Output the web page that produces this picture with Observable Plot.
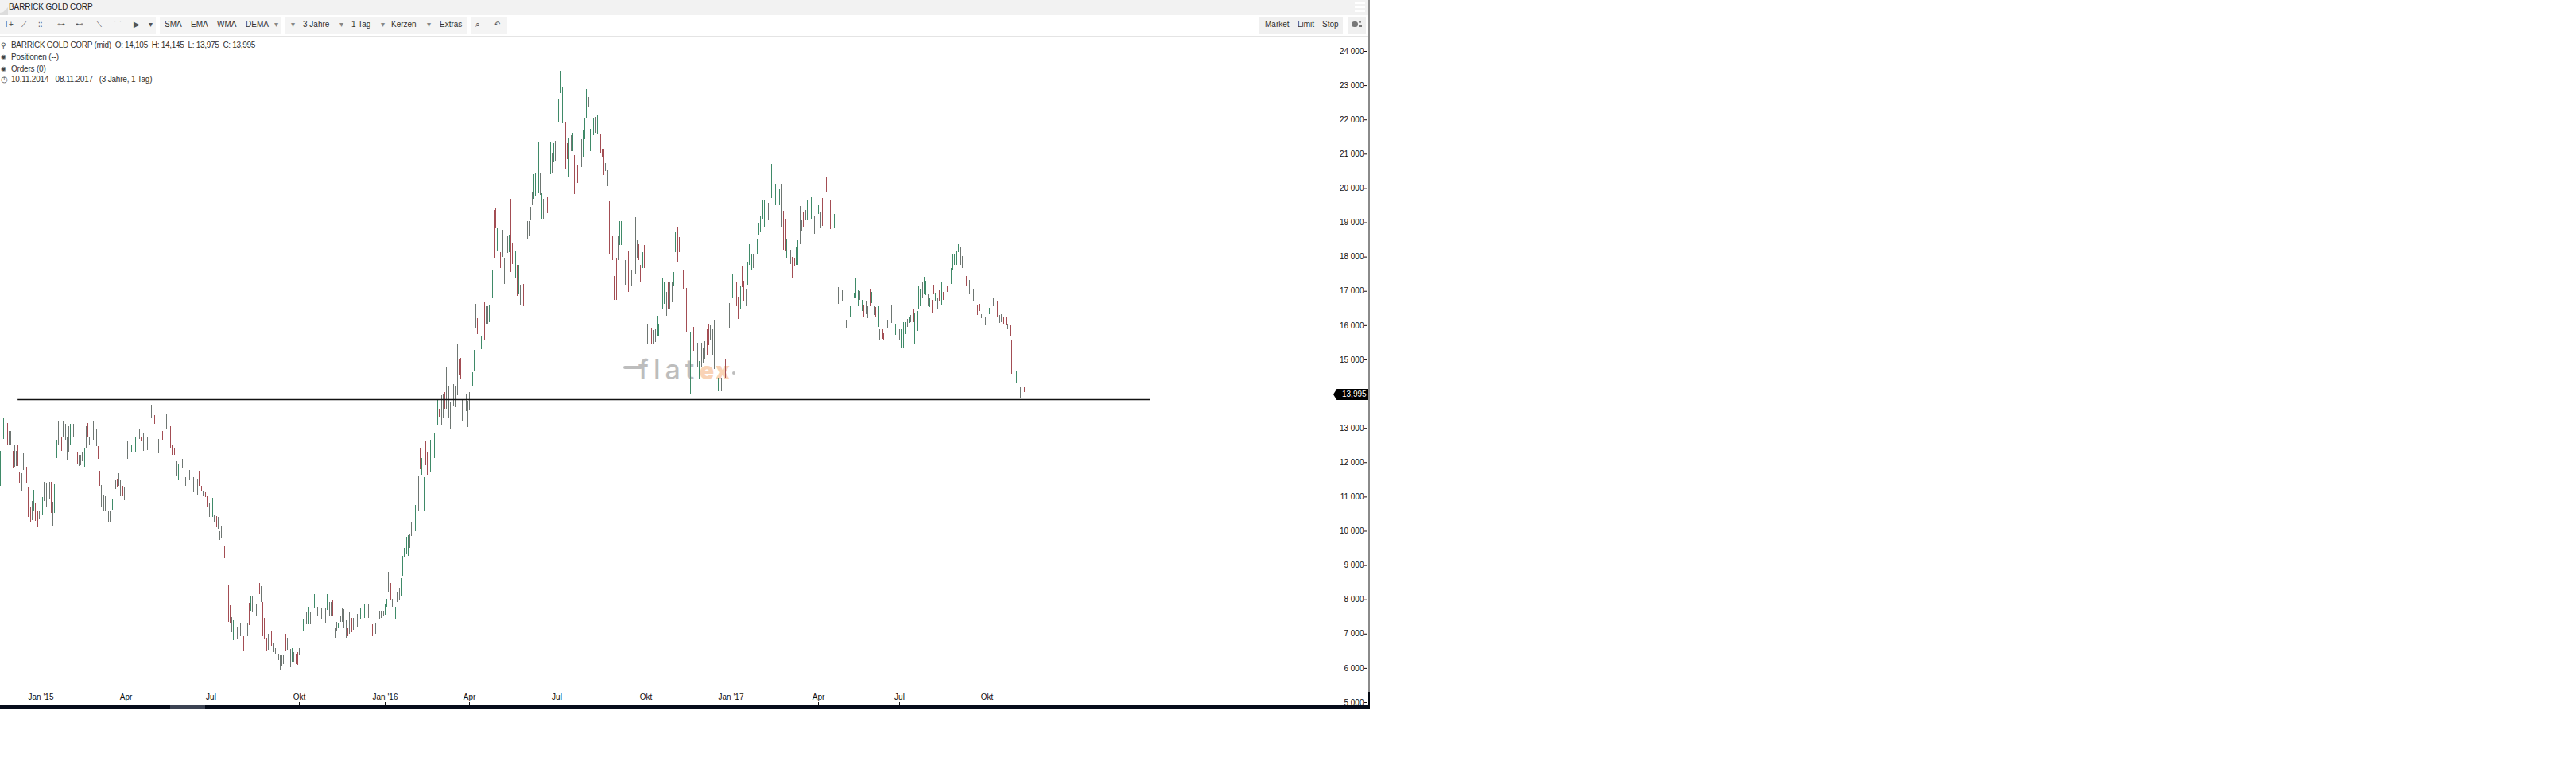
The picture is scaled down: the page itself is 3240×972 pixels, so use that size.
<!DOCTYPE html>
<html><head><meta charset="utf-8">
<script src="https://cdn.jsdelivr.net/npm/d3@7"></script>
<script src="https://cdn.jsdelivr.net/npm/@observablehq/plot@0.6"></script>
<style>
html,body{margin:0;padding:0;background:#fff;width:3240px;height:972px;overflow:hidden;font-family:"Liberation Sans",Arial,sans-serif}
#stage{position:absolute;left:0;top:0;width:3240px;height:972px}
.b{position:absolute}
.t{position:absolute;white-space:pre;font-size:10px;line-height:12px;color:#333}
svg{position:absolute;left:0;top:0}
</style></head><body><div id="stage"></div>
<script>
// Price in thousands. Each session: high, low (flat pairs). One list per quarter.
const q0=[12.34,11.3,12.61,12.07,13.29,12.69,12.92,12.61,13.15,12.49,12.92,12.51,12.9,12.51,12.32,11.81,12.49,11.86,12.32,11.89,12.49,11.89,11.7,11.41,11.68,11.18,12.26,11.78,12.48,11.87,11.87,11.4,11.27,10.41,10.71,10.25,10.87,10.31,11.19,10.6,10.83,10.29,10.56,10.1,10.6,10.33];
const d0="gngnrnnrnnrrnnnrrrngrrn";
const q1=[10.97,10.48,10.99,10.48,11.43,10.87,11.4,10.71,11.3,10.75,11.43,10.91,11.43,10.52,10.85,10.12,11.39,10.52,12.65,12.13,13.19,12.49,12.88,12.53,12.74,12.32,13.19,12.73,13.11,12.65,12.73,12.05,13.04,12.3,13.11,12.49,13,12.73,13.13,12.73,12.56,12.15,12.3,11.94,12.22,11.89,12.22,11.91,12.3,12.03,12.42,11.86,13.04,12.43,13.15,12.76,12.76,12.49,12.96,12.74,13.19,12.65,13.04,12.61,12.96,12.48,12.46,12.09,11.74,11.3,11.33,10.68,11.04,10.56,11.01,10.58,10.64,10.29,10.6,10.27,10.6,10.27,10.92,10.62,11.31,10.97,11.49,11.22,11.53,11.27,11.68,11.3,11.47,11.02,11.3,11.01,11.26,10.89];
const d1="ggnnnnrnggnnrnnnnggnrrnnngnrnrnrnrrnnnnnngnnrnnr";
const q2=[12.15,11.09,12.61,12.11,12.49,12.09,12.49,12.3,12.63,12.32,12.73,12.3,12.98,12.49,12.97,12.69,12.76,12.61,12.84,12.32,12.83,12.3,12.73,12.35,13.38,12.53,13.67,13.28,13.38,12.9,13.38,13.11,13.17,12.73,12.69,12.25,12.88,12.59,12.92,12.65,13.58,13.07,13.42,12.96,13.38,13.04,13.04,12.42,12.49,12.22,12.42,12.22,12.03,11.58,11.95,11.5,12.03,11.72,12.11,11.84,12.12,11.89,11.57,11.3,11.68,11.49,11.78,11.5,11.45,11.18,11.57,11.12,11.53,11.1,11.53,11.05,11.76,11.3,11.3,11.14,11.16,11.02,11.12,10.99,11.02,10.71,10.83,10.41];
const d2="gnngngnnrnnngnrrnngrnnrrrrngnnnnrnnnnnrrnrr";
const q3=[10.64,10.37,10.97,10.41,10.48,10.25,10.42,10.1,10.41,10.06,9.98,9.73,10.13,9.79,9.84,9.59,9.57,9.21,9.17,8.59,8.43,7.35,7.84,7.33,7.48,7.04,7.41,6.81,7.08,6.85,7.2,6.85,7.31,6.89,7.3,6.93,6.89,6.65,6.93,6.5,7.1,6.65,7.33,6.93,7.89,7.24,8.12,7.66,8.09,7.62,8.01,7.62,7.85,7.5,8.01,7.74,8.47,8.16,8.39,7.93,7.93,6.93,7.47,6.85,6.89,6.5,7,6.54,7.14,6.73,7.08,6.65,6.73,6.46,6.58,6.42,6.54,6.19,6.42,6.23,6.38,5.92,6.38,6.07,6.38,6.11,6.99,6.48,6.89,6.54,6.38,6.04,6.55,6.01,6.58,6.15,6.46,6.19,6.42,6.11,6.46,6.09];
const d3="ngnrnnnrrrrrngnnnnrrgnrgnnnnrnrrrnrrnnnnnnnrnnngnrr";
const q4=[6.58,6.38,6.89,6.63,7.43,7.06,7.47,7.08,7.62,7.27,7.79,7.27,7.62,7.27,8.16,7.74,8.16,7.74,7.97,7.53,7.78,7.51,7.76,7.45,7.74,7.43,7.74,7.43,7.74,7.33,8.16,7.7,7.93,7.54,7.93,7.51,7.97,7.51,7.16,6.89,7.35,7.08,7.3,7.16,7.51,7.35,7.74,7.35,7.71,7.16,7.39,6.89,7.16,6.93,7.62,7,7.47,7.04,7.47,7.12,7.39,7.04,7.58,7.2,7.58,7.25,7.74,7.43,8.07,7.62,7.85,7.47,7.83,7.58,7.85,7.47,7.7,7,7.27,6.93,7.74,6.91,7.33,7,7.66,7.39,7.66,7.43,7.66,7.47,7.66,7.51];
const d4="ngggngnggrnnnnngnnrnngnnnnrnrnnnngnggnnrrngnnnn";
const q5=[7.85,7.56,8.02,7.78,8.8,8.2,8.47,7.97,8.01,7.78,8.05,7.7,7.78,7.43,8.22,7.93,8.32,8,8.61,8.12,9.28,8.7,9.51,9.24,9.82,9.32,9.88,9.28,9.9,9.49,10.25,9.86,10.02,9.63,10.75,9.98,11.41,10.87,11.6,10.6,12.43,11.8,12.12,11.64,11.56,10.56,12.61,11.91,12.3,11.64,11.99,11.49,12.65,11.72,12.92,12.38,12.84,12.12,13.56,12.96,13.82,13.09,13.57,13.34,13.96,13.07,14,13.3,14.04,13.57,14.77,13.57,14.23,13.3,13.77,12.95,14.33,13.69,14.27,13.65,14.23,13.61,15.47,13.96,15,14.54,15.04,14.42,13.84,13.22,14.13,13.53,14,13.49,13.8,13.03];
const d5="ggnrnngnngggggnnnggnrggrrngggngrnnrnnnrnnnrrnrnnn";
const q6=[14.04,13.53,14.05,13.77,14.62,14.23,15.27,14.64,16.63,15.93,16.2,15.74,16.09,15.08,15.66,15.31,16.51,15.85,16.67,15.58,16.55,16.01,16.55,16.05,16.59,16.09,16.7,16.12,17.59,16.78,19.37,17.94,19.43,18.83,18.83,18.17,18.41,17.44,18.14,17.67,18.79,17.98,17.94,17.2,18.72,17.9,18.6,18.1,18.64,18.14,19.68,17.56,18.41,17.79,18.1,17.05,18.17,17.36,17.75,16.86,17.75,16.9,17.17,16.59,17.17,16.38,17.2,16.55,19.2,18.14,19.03,18.52,19.03,18.6,19.45,19.06,19.87,19.49,20.41,19.68,20.44,19.76,20.73,19.6,21.34,19.84,20.45,19.8,19.84,19.1,19.68,19.1,19.57,18.99,19.72,19.26,20.69,19.91,21.34,20.41,21,20.46,21.3,20.76,21.38,20.8];
const d6="ngggnrngnrnngggrrgnrnnnngrrngrgngrrnnnnggggngnnrrgngnrgrnnnnng";
const q7=[22.27,21.62,22.58,21.92,23.43,22.78,22.95,21.89,22.5,21.89,21.92,20.57,21.3,20.84,21.46,20.34,21.54,21.07,21.62,21.07,20.96,19.82,20.53,19.99,20.69,20.15,20.49,19.91,21.42,20.61,21.69,20.88,22.06,21.42,22.89,22.04,22.66,22.35,21.73,21.07,21.62,21.19,22.04,21.54,22.08,21.62,22.14,21.58,21.77,21.38,21.58,21,21.15,20.88,21.15,20.38,20.73,20.49,20.53,20.05,19.62,18.06,18.95,18.02,18.6,17.9,17.44,16.74,17.94,16.74,18.6,17.9,19.03,18.33,19.03,18.33,18.1,17.28,17.9,17.17,17.67,17.05,18.15,16.98,17.75,17.05,17.63,17.13,17.6,17.09,19.14,17.48,18.48,17.94,18.37,17.9,17.75,17.28,18.13,17.67,18.33,17.67];
const d7="ngggrrrgngrnrnngggngrgngnrrrnnrrrrrngggnnrrnnnnrrgrnnggng";
const q8=[16.59,15.35,16.01,15.43,16.09,15.31,15.93,15.43,15.85,15.43,15.89,15.51,16.28,15.7,16.05,15.66,16.43,16.05,17.38,16.47,17.25,16.63,16.98,16.28,17.28,16.47,17.28,16.47,17.25,16.67,17.56,17.13,18.72,18.14,18.87,17.86,18.58,18.14,17.61,16.98,17.61,17.05,18.17,16.74,17.09,15.78,15.81,14.92,15.8,14,15.61,14.95,15.95,15.26,15.66,15.11,15.49,14.8,14.95,14.42,15.49,14.8,15.34,14.88,15.53,15.03,15.87,15.11,16.03,15.41,15.99,15.57,15.87,15.11,16.14,14.72,14.46,13.96,14.46,14.07,14.42,14.07,14.46,14.07,14.65,14.27,14.99,14.46,16.49,15.6,16.64,15.91];
const d8="rnnrnnggnggnrnnggrrnrnrrggrnngnnnrrnnnngnnrrgng";
const q9=[16.83,15.91,17.48,16.79,17.29,16.79,17.25,16.56,16.83,16.18,17.14,16.49,17.71,17.1,17.29,16.72,17.06,16.56,17.83,17.18,18.36,17.75,18.09,17.6,18.09,17.67,18.61,18.25,18.51,18.06,18.97,18.61,19.17,18.71,19.63,19.09,19.66,18.86,19.55,18.82,19.56,19.05,19.33,18.84,20.7,19.7,20.74,20.16,20.12,19.51,20.24,19.66,19.97,19.51,20.12,18.86,19.33,18.21,19.09,18.17,18.52,17.94,18.4,17.79,18.21,17.79,17.98,17.37,17.94,17.71,18.29,17.75,18.48,17.75,19.47,18.36,19.05,18.74,19.28,18.86,19.36,19.05,19.63,19.05,19.66,19.13,19.74,19.09,19.7,19.28,19.17,18.67,19.26,18.78];
const d9="ggrrrgrrngggnggggggnnggrgrgnrrgnnrrggnnrngngrngggnrnr";
const q10=[19.51,19.24,19.28,18.82,19.7,18.9,20.12,19.66,20.33,19.86,19.86,19.51,19.63,18.8,19.36,18.82,19.24,18.82,18.13,17.02,17.11,16.62,16.95,16.64,17.02,16.72,16.55,16.27,16.16,15.91,16.35,16.01,16.56,16.26,16.87,16.52,16.95,16.79,17.37,16.79,17.02,16.56,17,16.75,16.74,16.41,16.6,16.26,16.72,16.33,16.56,16.2,17.06,16.56,16.98,16.64,16.56,16.29,16.52,16.26,16.56,15.95,15.87,15.57,15.87,15.61,15.76,15.55,15.76,15.55,16.14,15.91,16.52,16.18,16.58,16.07,16.07,15.8,16.03,15.72,15.99,15.53];
const d10="gnrrrrrggrnrngnngggggngrnnrgnrgnrrrnnngggrnr";
const q11=[15.87,15.57,15.87,15.34,16.1,15.32,16.1,15.74,16.18,15.95,16.26,16.07,16.29,16.1,16.49,16.1,16.37,15.45,16.41,15.84,17.14,16.45,17.06,16.56,17.25,16.79,17.4,16.91,17.29,16.87,16.91,16.56,16.79,16.52,16.75,16.37,17.18,16.91,16.95,16.72,16.79,16.45,17.02,16.72,17.27,16.6,16.98,16.75,16.95,16.75,17.14,16.98,17.21,17.02,17.67,17.21,18.06,17.63,18.06,17.75,18.17,17.75,18.36,18.13,18.29,17.75,18.02,17.67,17.75,17.41,17.44,17.14,17.4,17.1,17.33,16.91,17.1,16.87,17.06,16.72,16.72,16.29,16.6,16.29,16.62,16.41,16.33,16.2,16.33,16.14,16.22,15.99];
const d11="ngggngnrggggnggngrrgnrgrgrngggggnnrrrnnnnrrnrnnrng";
const q12=[16.45,16.14,16.5,16.33,16.83,16.64,16.79,16.56,16.79,16.56,16.72,16.22,16.29,16.07,16.32,16.1,16.26,16.03,16.22,15.99,16.03,15.87,15.99,15.68,15.57,14.57,14.88,14.53,14.65,14.3,14.42,14.23,14.19,13.88,14.19,13.96,14.19,14.04];
const d12="ggnnrrnnrrnrrngrnnr";
const quarters=[q0,q1,q2,q3,q4,q5,q6,q7,q8,q9,q10,q11,q12];
const dirs=[d0,d1,d2,d3,d4,d5,d6,d7,d8,d9,d10,d11,d12];
const tickLabels=["Jan '15","Apr","Jul","Okt","Jan '16","Apr","Jul","Okt","Jan '17","Apr","Jul","Okt"];
const priceTicks=[5,6,7,8,9,10,11,12,13,14,15,16,17,18,19,20,21,22,23,24];
const supportLevel=13.84;
const barsBeforeLineStart=10, barsBeyondEnd=93;

const bars=[];const bounds=[0];
quarters.forEach((q,k)=>{for(let j=0;j<q.length;j+=2){bars.push({i:bars.length,hi:q[j],lo:q[j+1],d:dirs[k][j/2]||"n"});}bounds.push(bars.length);});
const last=bars.length-1;
bounds[bounds.length-1]=last;
const tickIdx=bounds.slice(1,13);

const chart=Plot.plot({
  width:1722,height:891,marginLeft:1719,marginRight:0,marginTop:886,marginBottom:5,
  style:{background:"transparent",fontFamily:"'Liberation Sans',Arial,sans-serif",fontSize:"10px",color:"#111",overflow:"visible"},
  x:{type:"linear",domain:[...bounds,last+barsBeyondEnd],range:[0,51,158,265,376,484,590,700,812,919,1029,1131,1241,1288,1447]},
  y:{type:"linear",domain:[5,24],range:[883,64]},
  color:{domain:["g","r","n"],range:["#3f8a68","#a34d53","#6e7672"]},
  marks:[
    Plot.ruleX(bars,{x:"i",y1:"lo",y2:"hi",stroke:"d",strokeWidth:1,shapeRendering:"crispEdges"}),
    Plot.ruleY([supportLevel],{x1:barsBeforeLineStart,x2:last+barsBeyondEnd,stroke:"#111",strokeWidth:1.6}),
    Plot.axisX({anchor:"top",ticks:tickIdx,tickFormat:(d,i)=>tickLabels[i],tickSize:4,tickPadding:3,label:null,stroke:"#111",fill:"#111"}),
    Plot.axisY({anchor:"left",ticks:priceTicks,tickFormat:d=>d+" 000",tickSize:3,tickPadding:1,label:null,stroke:"#111",fill:"#111"})
  ]
});

const st=document.getElementById("stage");
function box(x,y,w,h,bg,extra){const e=document.createElement("div");e.className="b";e.style.cssText=`left:${x}px;top:${y}px;width:${w}px;height:${h}px;background:${bg};${extra||""}`;st.appendChild(e);return e;}
function txt(x,cy,s,extra){const e=document.createElement("div");e.className="t";e.style.cssText=`left:${x}px;top:${cy-6}px;${extra||""}`;e.textContent=s;st.appendChild(e);return e;}

// watermark sits beneath the chart
box(784,460,24,4,"#bdbdbd","border-radius:2px");
txt(803,465,"flat","font:500 34px/12px Inter,sans-serif;color:#bdbdbd;letter-spacing:6px;");
txt(880,466,"ex","font:900 30px/12px Inter,sans-serif;color:#f9d3b6;letter-spacing:2px;");
box(921,467,4,4,"#bdbdbd","border-radius:50%");

st.appendChild(chart);

// header
box(0,0,1721,19,"#f2f2f2");
box(0,9,10,10,"#dcdcdc","clip-path:polygon(0 100%,0 70%,40% 60%,100% 0,100% 100%)");
txt(11,9,"BARRICK GOLD CORP","color:#222;letter-spacing:-.1px");
for(const y of [2,7,12])box(1704,y,13,3,"#fff");
// toolbar
box(0,21,196,22,"#f4f4f4");box(201,21,153,22,"#f4f4f4");box(359,21,228,22,"#f4f4f4");box(592,21,46,22,"#f4f4f4");
box(1584,21,105,22,"#f0f0f0");box(1695,21,23,22,"#f0f0f0");
box(0,45,1721,1,"#e4e4e4");
const gray="color:#555;";
[[5,"T+"],[27,"⟋"],[48,"⁞⁞"],[72,"⊶"],[95,"⊷"],[121,"⟍"],[143,"⌒"],[168,"▶"],[187,"▾"]].forEach(([x,s])=>txt(x,31,s,gray));
[[207,"SMA"],[240,"EMA"],[273,"WMA"],[309,"DEMA"],[381,"3 Jahre"],[442,"1 Tag"],[492,"Kerzen"],[553,"Extras"]].forEach(([x,s])=>txt(x,31,s));
[345,366,427,479,537].forEach(x=>txt(x,31,"▾","color:#888"));
txt(598,31,"⌕",gray);txt(621,31,"↶",gray);
[[1591,"Market"],[1632,"Limit"],[1663,"Stop"]].forEach(([x,s])=>txt(x,31,s));
box(1700,27,8,7,"#777","border-radius:4px");box(1709,26,3,3,"#777","border-radius:50%");box(1709,31,4,3,"#777");
// info lines
txt(1,57,"⚲","font-size:9px;color:#444");
txt(14,57,"BARRICK GOLD CORP (mid)  O: 14,105  H: 14,145  L: 13,975  C: 13,995","letter-spacing:-.3px");
txt(1,72,"◉","font-size:8px;color:#444");txt(14,72,"Positionen (--)","letter-spacing:-.2px");
txt(1,87,"◉","font-size:8px;color:#444");txt(14,87,"Orders (0)","letter-spacing:-.2px");
txt(1,100,"◷","font-size:10px;color:#444");txt(14,100,"10.11.2014 - 08.11.2017   (3 Jahre, 1 Tag)","letter-spacing:-.2px");
// price flag
box(1677,489,44,14,"#000","clip-path:polygon(0 50%,10% 0,100% 0,100% 100%,10% 100%)");
txt(1688,496,"13,995","color:#fff");
// frame
box(1721,0,2,870,"#8a8a8a");box(1721,870,2,21,"#050a14");
box(0,887,1721,4,"#060c1a");box(214,887,44,4,"#3b4252");
</script></body></html>
